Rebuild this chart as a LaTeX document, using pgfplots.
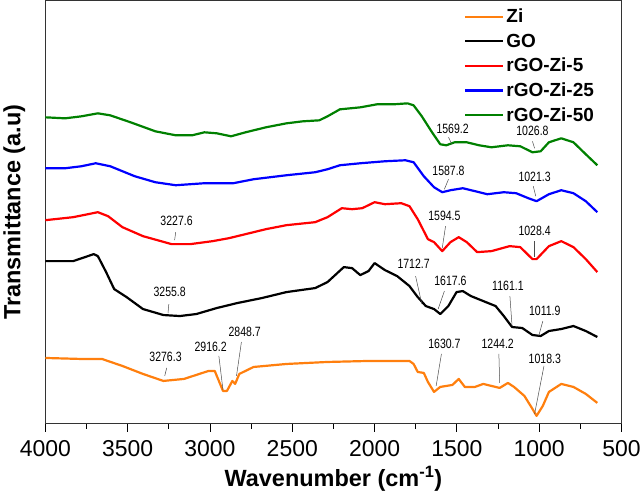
\documentclass[border=0pt]{standalone}
\usepackage{fontspec}
\setmainfont{Liberation Sans}
\newfontfamily\narrowfont[FakeStretch=0.78]{Liberation Sans}
\usepackage{pgfplots}
\pgfplotsset{compat=1.18}

\definecolor{cZi}{RGB}{255,127,14}
\definecolor{cGO}{RGB}{0,0,0}
\definecolor{cR5}{RGB}{255,0,0}
\definecolor{cR25}{RGB}{0,0,255}
\definecolor{cR50}{RGB}{0,128,0}

\begin{document}
\begin{tikzpicture}
\begin{axis}[
  width=577pt, height=424pt, scale only axis,
  x dir=reverse, xmin=500, xmax=4000, ymin=0, ymax=424,
  xtick={500,1000,...,4000}, minor x tick num=1,
  ytick=\empty, xtick pos=bottom, tick align=outside,
  major tick length=8pt, minor tick length=5pt,
  every tick/.style={black, line width=0.9pt},
  axis line style={line width=1pt, black!80},
  /pgf/number format/assume math mode=true,
  /pgf/number format/set thousands separator={},
  ticklabel style={font=\fontsize{23}{25}\selectfont},
  xticklabel style={yshift=-5pt},
  xlabel={\textbf{Wavenumber (cm\textsuperscript{-1})}},
  ylabel={\textbf{Transmittance (a.u)}},
  label style={font=\fontsize{23.5}{25}\selectfont},
  xlabel style={at={(axis description cs:0.5,-0.13)}, anchor=center},
  ylabel style={at={(axis description cs:-0.054,0.5)}, anchor=center},
  legend cell align=left,
  legend image code/.code={\draw[#1, line width=2.2pt] (0pt,0pt) -- (38pt,0pt);},
  legend style={draw=none, fill=none, at={(0.725,0.987)}, anchor=north west,
    font=\bfseries\fontsize{19}{21}\selectfont, row sep=5.5pt, inner sep=1pt},
  every axis plot/.append style={line width=2.2pt, line join=round},
]
\addplot[cZi] coordinates {(4000,66)(3781,65)(3656,65)(3532,58)(3407,50)(3283,43)(3158,45)(3009,53)(2971,53)(2921,33)(2897,33)(2864,43)(2847,40)(2822,50)(2735,57)(2535,60)(2286,62)(2037,63)(1788,63)(1763,60)(1738,52)(1701,51)(1676,42)(1639,32)(1601,37)(1564,38)(1527,39)(1489,45)(1452,37)(1390,37)(1340,40)(1290,38)(1240,36)(1190,41)(1153,37)(1090,28)(1041,15)(1016,8)(978,18)(941,32)(866,40)(792,37)(717,30)(647,21)};
\addlegendentry{Zi}
\addplot[cGO] coordinates {(4000,163)(3831,163)(3706,170)(3681,168)(3631,152)(3582,135)(3507,127)(3407,115)(3283,109)(3183,108)(3083,110)(2959,116)(2834,121)(2685,126)(2535,132)(2361,136)(2286,142)(2187,157)(2137,156)(2087,149)(2037,153)(2000,161)(1937,154)(1863,148)(1788,138)(1738,127)(1689,118)(1639,115)(1601,110)(1552,118)(1502,132)(1464,133)(1415,128)(1340,123)(1265,118)(1215,108)(1165,97)(1103,96)(1041,89)(991,88)(941,93)(866,95)(792,98)(717,93)(647,87)};
\addlegendentry{GO}
\addplot[cR5] coordinates {(4000,204)(3831,207)(3681,212)(3619,208)(3532,197)(3407,188)(3233,180)(3120,180)(2984,183)(2884,186)(2784,190)(2660,195)(2535,199)(2361,202)(2286,207)(2199,216)(2137,215)(2075,216)(2000,222)(1937,220)(1838,221)(1788,218)(1738,205)(1676,185)(1639,182)(1589,173)(1539,182)(1489,187)(1440,182)(1377,172)(1290,173)(1180,178)(1115,177)(1041,165)(1016,165)(941,178)(866,183)(792,177)(717,165)(647,152)};
\addlegendentry{rGO-Zi-5}
\addplot[cR25] coordinates {(4000,256)(3880,256)(3781,258)(3694,261)(3606,258)(3457,248)(3332,242)(3208,239)(3034,241)(2859,241)(2735,245)(2535,249)(2361,252)(2286,255)(2211,259)(2087,261)(1937,263)(1813,264)(1763,262)(1701,248)(1639,237)(1589,232)(1539,234)(1464,236)(1389,233)(1315,230)(1215,232)(1140,231)(1066,226)(1016,223)(941,230)(866,234)(792,231)(717,223)(647,212)};
\addlegendentry{rGO-Zi-25}
\addplot[cR50] coordinates {(4000,307)(3880,306)(3781,308)(3681,311)(3606,309)(3482,302)(3332,293)(3208,289)(3108,289)(3034,292)(2959,291)(2872,288)(2784,292)(2660,297)(2535,301)(2436,303)(2336,304)(2286,308)(2211,315)(2087,317)(1987,320)(1888,320)(1800,321)(1763,319)(1713,308)(1651,292)(1601,280)(1564,279)(1514,282)(1440,282)(1365,279)(1290,277)(1190,279)(1115,278)(1041,272)(991,273)(941,282)(866,286)(792,282)(717,270)(647,259)};
\addlegendentry{rGO-Zi-50}

% peak labels
\begin{scope}[every node/.style={font=\narrowfont\fontsize{13.5}{14}\selectfont, inner sep=0pt}]
\node at (axis cs:1526,295) {1569.2};
\node at (axis cs:1041,293) {1026.8};
\node at (axis cs:1551,253) {1587.8};
\node at (axis cs:1028,247) {1021.3};
\node at (axis cs:3203,203) {3227.6};
\node at (axis cs:1576,208) {1594.5};
\node at (axis cs:1028,193) {1028.4};
\node at (axis cs:1763,160) {1712.7};
\node at (axis cs:1539,143) {1617.6};
\node at (axis cs:3245,132) {3255.8};
\node at (axis cs:1190,138) {1161.1};
\node at (axis cs:966,113) {1011.9};
\node at (axis cs:2789,92) {2848.7};
\node at (axis cs:2996,77) {2916.2};
\node at (axis cs:3270,67) {3276.3};
\node at (axis cs:1576,80) {1630.7};
\node at (axis cs:1252,80) {1244.2};
\node at (axis cs:966,65) {1018.3};
\end{scope}
\begin{scope}[black!70, line width=0.5pt]
\draw (axis cs:1551,287) -- (axis cs:1530,280);
\draw (axis cs:1041,283) -- (axis cs:1028,276);
\draw (axis cs:1551,245) -- (axis cs:1576,235);
\draw (axis cs:1036,238) -- (axis cs:1021,228);
\draw (axis cs:3208,192) -- (axis cs:3215,184);
\draw (axis cs:1569,198) -- (axis cs:1589,176);
\draw (axis cs:1028,183) -- (axis cs:1028,167);
\draw (axis cs:1751,148) -- (axis cs:1713,120);
\draw (axis cs:1576,133) -- (axis cs:1614,115);
\draw (axis cs:3250,120) -- (axis cs:3255,111);
\draw (axis cs:1178,128) -- (axis cs:1165,98);
\draw (axis cs:978,103) -- (axis cs:1003,88);
\draw (axis cs:2809,82) -- (axis cs:2839,48);
\draw (axis cs:2946,68) -- (axis cs:2921,34);
\draw (axis cs:3263,56) -- (axis cs:3275,48);
\draw (axis cs:1594,70) -- (axis cs:1626,38);
\draw (axis cs:1245,70) -- (axis cs:1240,41);
\draw (axis cs:971,58) -- (axis cs:1028,10);
\end{scope}
\end{axis}
\end{tikzpicture}
\end{document}
